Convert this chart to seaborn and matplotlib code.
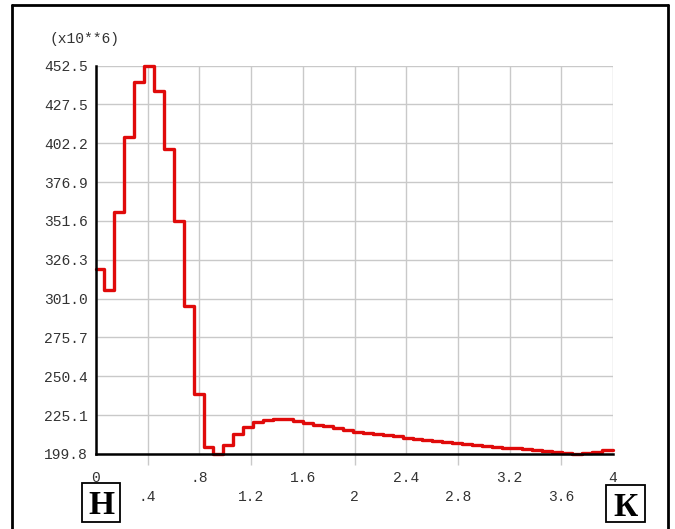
import matplotlib
matplotlib.use("Agg")
import matplotlib.pyplot as plt
from matplotlib.patches import Rectangle
from matplotlib.lines import Line2D
import seaborn as sns
import pandas as pd

# Staircase: start of each step (x) and the level held over that step (x10**6)
step_start = [
    0.000, 0.062, 0.139, 0.216, 0.293, 0.370, 0.447, 0.524, 0.601, 0.678,
    0.755, 0.832, 0.909, 0.986, 1.063, 1.140, 1.217, 1.294, 1.371, 1.448,
    1.525, 1.602, 1.679, 1.756, 1.833, 1.910, 1.987, 2.064, 2.141, 2.218,
    2.295, 2.372, 2.449, 2.526, 2.603, 2.680, 2.757, 2.834, 2.911, 2.988,
    3.065, 3.142, 3.219, 3.296, 3.373, 3.450, 3.527, 3.604, 3.681, 3.758,
    3.835, 3.912,
]
step_value = [
    320.1, 306.6, 357.2, 406.5, 442.3, 452.5, 436.2, 398.3, 351.6, 296.2,
    238.9, 204.6, 199.8, 205.7, 212.6, 217.6, 220.4, 221.9, 222.6, 222.6,
    221.3, 220.2, 219.0, 217.8, 216.6, 215.4, 214.4, 213.6, 212.8, 212.0,
    211.2, 210.5, 209.8, 209.1, 208.4, 207.7, 207.0, 206.4, 205.8, 205.2,
    204.6, 204.0, 203.4, 202.8, 202.2, 201.6, 201.0, 200.5, 200.1, 200.3,
    201.2, 202.2,
]
x_end = 4.0

y_tick_values = [199.8, 225.1, 250.4, 275.7, 301.0, 326.3, 351.6, 376.9, 402.2, 427.5, 452.5]
y_tick_labels = ["199.8", "225.1", "250.4", "275.7", "301.0", "326.3",
                 "351.6", "376.9", "402.2", "427.5", "452.5"]
x_upper_ticks = [0.0, 0.8, 1.6, 2.4, 3.2, 4.0]
x_upper_labels = ["0", ".8", "1.6", "2.4", "3.2", "4"]
x_lower_ticks = [0.4, 1.2, 2.0, 2.8, 3.6]
x_lower_labels = [".4", "1.2", "2", "2.8", "3.6"]

df = pd.DataFrame({
    "x": step_start + [x_end],
    "y": step_value + [step_value[-1]],
})

sns.set_style("white")
plt.rcParams["font.family"] = ["Liberation Mono", "DejaVu Sans"]

W, H = 675, 529
fig = plt.figure(figsize=(W / 100, H / 100), dpi=100)


def fx(px):
    return px / W


def fy(py):
    return 1 - py / H


ax = fig.add_axes([fx(96), fy(454), fx(613) - fx(96), fy(66) - fy(454)])

sns.lineplot(data=df, x="x", y="y", ax=ax, drawstyle="steps-post",
             estimator=None, color="#e00a0a", linewidth=2.4,
             clip_on=False, zorder=3)

ax.set_xlim(0, 4)
ax.set_ylim(199.8, 452.5)
ax.set_xlabel("")
ax.set_ylabel("")

grid_c = "#c9c9c9"
text_c = "#333333"

ax.set_yticks(y_tick_values)
ax.set_yticklabels(y_tick_labels)
ax.set_xticks(x_upper_ticks)
ax.set_xticklabels(x_upper_labels)
ax.set_xticks(x_lower_ticks, minor=True)
ax.set_xticklabels(x_lower_labels, minor=True)

ax.tick_params(axis="y", which="major", length=5, width=1, color=grid_c,
               pad=1, labelsize=10.5, labelcolor=text_c)
ax.tick_params(axis="x", which="major", length=8, width=1, color=grid_c,
               pad=4, labelsize=10.5, labelcolor=text_c)
ax.tick_params(axis="x", which="minor", length=8, width=1, color=grid_c,
               pad=18, labelsize=10.5, labelcolor=text_c, bottom=True)

ax.grid(True, which="both", color=grid_c, linewidth=1)
ax.set_axisbelow(True)

for side in ("top", "right"):
    ax.spines[side].set_visible(False)
for side in ("left", "bottom"):
    ax.spines[side].set_color("black")
    ax.spines[side].set_linewidth(1.8)
    ax.spines[side].set_zorder(4)

fig.text(fx(85), fy(39), "(x10**6)", ha="center", va="center",
         fontsize=10.5, color=text_c)

# outer frame
frame_kw = dict(color="black", linewidth=2, transform=fig.transFigure)
fig.add_artist(Line2D([fx(12), fx(12)], [fy(5), 0], **frame_kw))
fig.add_artist(Line2D([fx(12), fx(668)], [fy(5), fy(5)], **frame_kw))
fig.add_artist(Line2D([fx(668), fx(668)], [fy(5), 0], **frame_kw))


def boxed_letter(ch, x0, y0, x1, y1):
    fig.add_artist(Rectangle((fx(x0), fy(y1)), fx(x1) - fx(x0), fy(y0) - fy(y1),
                             transform=fig.transFigure, fill=False,
                             edgecolor="black", linewidth=1.3))
    fig.text(fx((x0 + x1) / 2), fy((y0 + y1) / 2), ch, ha="center",
             va="center_baseline", fontsize=24, fontweight="bold",
             family=["Liberation Serif", "DejaVu Serif"], color="black")


boxed_letter("Н", 82, 483, 120, 522)
boxed_letter("К", 606, 485, 645, 522)

fig.savefig("out.png", dpi=100)
